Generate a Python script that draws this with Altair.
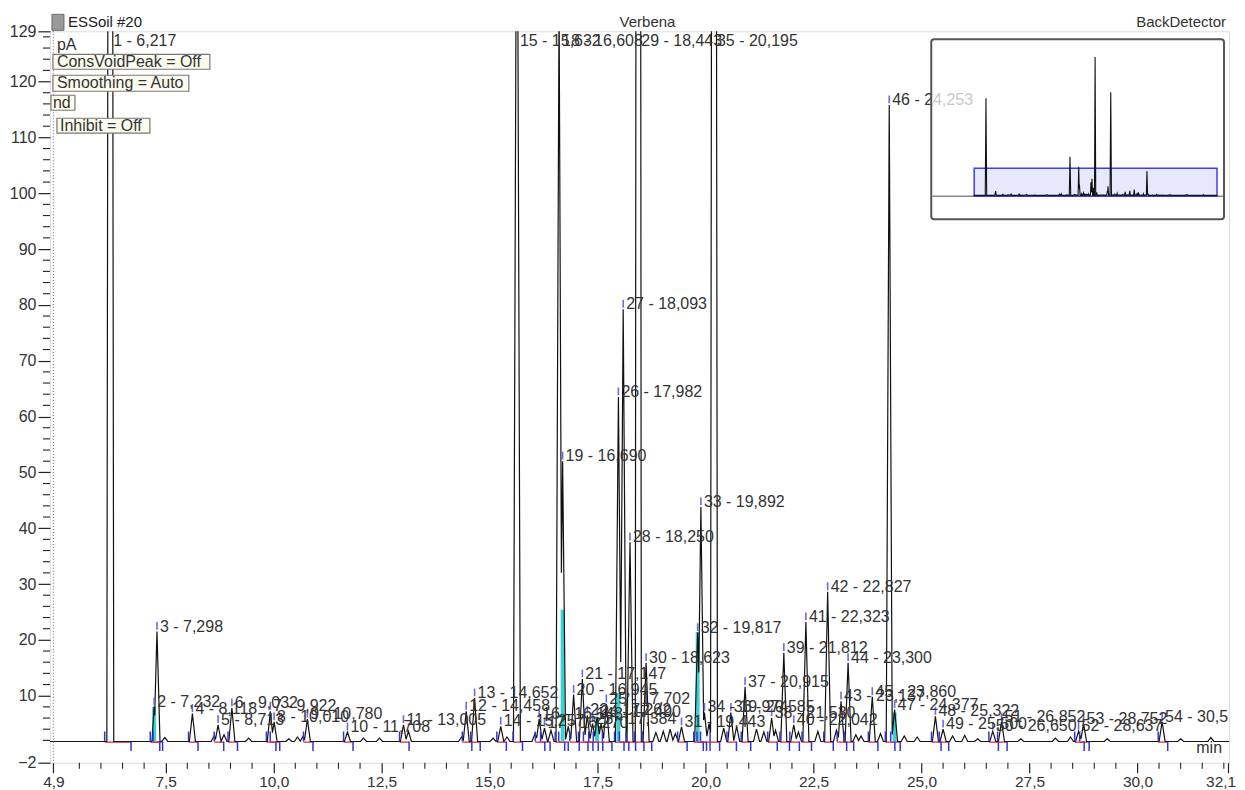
import altair as alt
import numpy as np
import pandas as pd

# ---------------- values ----------------
peak_id = list(range(1, 55))
peak_rt = [6.217, 7.232, 7.298, 8.118, 8.713, 9.032, 9.922, 10.010, 10.780, 11.708,
           13.005, 14.458, 14.652, 15.257, 15.632, 16.148, 16.270, 16.608, 16.690, 16.945,
           17.147, 17.262, 17.384, 17.490, 17.702, 17.982, 18.093, 18.250, 18.443, 18.623,
           19.443, 19.817, 19.892, 19.974, 20.195, 20.585, 20.915, 21.530, 21.812, 22.042,
           22.323, 22.827, 23.137, 23.300, 23.860, 24.253, 24.377, 25.322, 25.500, 26.650,
           26.852, 28.637, 28.752, 30.571]
peak_h = [456, 8.0, 21.5, 6.8, 4.8, 7.8, 7.2, 5.3, 5.8, 3.5,
          4.8, 7.2, 9.6, 4.5, 182, 5.8, 4.2, 135, 52, 10.2,
          13.0, 6.5, 5.0, 6.2, 8.5, 63.5, 79.2, 37.5, 650, 15.9,
          4.4, 21.3, 43.8, 7.0, 485, 7.0, 11.6, 6.0, 17.7, 4.8,
          23.2, 28.6, 9.0, 15.9, 9.8, 115.8, 7.5, 6.3, 4.0, 3.6,
          5.3, 3.6, 5.0, 5.3]
wide_peaks = {1: 0.08, 2: 0.05, 15: 0.08, 35: 0.08}

minor_rt = [7.48, 8.62, 8.85, 9.42, 10.35, 10.55, 10.68, 12.08, 12.45, 13.12,
            14.35, 15.08, 15.40, 16.05, 16.42, 16.82, 17.58, 18.85, 19.02, 19.18,
            19.30, 20.08, 20.42, 20.72, 21.18, 21.35, 21.62, 22.15, 22.60, 23.03,
            23.48, 23.60, 24.05, 24.60, 24.90, 25.72, 26.00, 26.30, 27.30, 28.10,
            28.45, 29.30, 31.00, 31.70]
minor_h = [2.5, 2.8, 3.0, 2.4, 2.3, 2.6, 2.7, 2.4, 2.4, 3.6,
           2.6, 2.4, 2.6, 3.2, 3.8, 4.5, 5.0, 3.4, 3.6, 4.0,
           3.2, 5.0, 4.2, 4.5, 4.0, 3.5, 3.8, 3.5, 3.6, 3.8,
           3.0, 2.8, 3.2, 2.8, 2.6, 2.8, 2.9, 2.3, 2.3, 2.4,
           2.6, 2.3, 2.3, 2.5]

cyan_peak = [2, 19, 24, 26, 32, 47]
cyan_top = [8.0, 25.4, 6.2, 10.5, 21.4, 7.0]

baseline = 1.8
x_ticks = [4.9, 7.5, 10.0, 12.5, 15.0, 17.5, 20.0, 22.5, 25.0, 27.5, 30.0, 32.1]
y_ticks = [-2, 10, 20, 30, 40, 50, 60, 70, 80, 90, 100, 110, 120, 129]
x_minor = [v / 2 for v in range(11, 65) if (v / 2) not in x_ticks]
y_minor = [v for v in range(0, 129, 2) if v % 10 != 0]

X_DOMAIN = [4.82, 32.12]
Y_DOMAIN = [-2, 129]
W, H = 1180, 732
FONT = "Liberation Sans"

# ---------------- trace construction from the peak table ----------------
tri = []
for i, r, h in zip(peak_id, peak_rt, peak_h):
    tri.append((r, h, wide_peaks.get(i, 0.07)))
for r, h in zip(minor_rt, minor_h):
    tri.append((r, h, 0.07))

keys = set(X_DOMAIN)
for r, h, w in tri:
    keys |= {r - w, r, r + w}
for a in tri:
    for b in tri:
        if a[0] < b[0] and a[0] + a[2] > b[0] - b[2]:
            Ha, Hb = a[1] - baseline, b[1] - baseline
            t = (Ha - Hb + Ha * a[0] / a[2] + Hb * b[0] / b[2]) / (Ha / a[2] + Hb / b[2])
            if max(a[0], b[0] - b[2]) <= t <= min(a[0] + a[2], b[0]):
                keys.add(t)


def env(t):
    vals = [baseline] + [baseline + (h - baseline) * (1 - abs(t - r) / w)
                         for r, h, w in tri if abs(t - r) < w]
    return max(vals)


ts = sorted(k for k in keys if X_DOMAIN[0] <= k <= X_DOMAIN[1])
trace = pd.DataFrame({"t": ts, "v": [env(t) for t in ts]})

peaks = pd.DataFrame({"id": peak_id, "rt": peak_rt, "h": peak_h})
peaks["s"] = peaks["rt"] - np.where(peaks["id"] == 1, 0.13, 0.09)
peaks["e"] = peaks["rt"] + np.where(peaks["id"] == 1, 0.48, 0.13)
peaks["b"] = baseline
peaks["b_red"] = baseline - 0.12
peaks["b_up"] = baseline + 1.8
peaks["b_dn"] = baseline - 1.7
peaks["ylab"] = peaks["h"].clip(upper=126.3)
peaks["label"] = [f"{i} - {r:.3f}".replace(".", ",") for i, r in zip(peak_id, peak_rt)]
apex = peaks[peaks["h"] < 126].copy()
apex["a0"] = apex["h"] + 0.3
apex["a1"] = apex["h"] + 1.7

cyan = pd.DataFrame({"id": cyan_peak, "top": cyan_top})
cyan = cyan.merge(peaks[["id", "rt"]], on="id")
cyan["x0"] = cyan["rt"] - 0.045
cyan["x1"] = cyan["rt"] + 0.045
cyan["y0"] = baseline

# ---------------- inset overview (pixel layout -> data coords) ----------------
def px2t(px):  # absolute page pixel -> time
    return X_DOMAIN[0] + (px - 50) / W * (X_DOMAIN[1] - X_DOMAIN[0])


def py2v(py):  # absolute page pixel -> value
    return Y_DOMAIN[1] - (py - 31) / H * (Y_DOMAIN[1] - Y_DOMAIN[0])


inset_box = pd.DataFrame({"x0": [px2t(932)], "x1": [px2t(1225)], "y0": [py2v(39)], "y1": [py2v(219)]})
inset_sel = pd.DataFrame({"x0": [px2t(975)], "x1": [px2t(1218)], "y0": [py2v(168)], "y1": [py2v(196)]})
inset_axis = pd.DataFrame({"x0": [px2t(933)], "x1": [px2t(1224)], "y": [py2v(196)]})
mini = pd.DataFrame({
    "t": [px2t(975 + (t - 4.9) / 27.2 * 243) for t in trace["t"]],
    "v": [py2v(196 - (v + 2) / 131 * 28) for v in trace["v"]],
})

# ---------------- encodings ----------------
xs = alt.Scale(domain=X_DOMAIN, nice=False, zero=False)
ys = alt.Scale(domain=Y_DOMAIN, nice=False, zero=False)
last_x = x_ticks[-1]
xaxis = alt.Axis(values=x_ticks,
                 labelExpr=f"datum.value > {last_x - 0.05} ? '' : replace(format(datum.value, '.1f'), '.', ',')",
                 tickSize=10, tickWidth=1.2, tickColor="#222", labelPadding=2, labelFontSize=15.5,
                 labelFont=FONT, labelColor="#333", grid=False, domain=False, title=None,
                 labelOverlap=False, labelFlush=False, labelBound=False)
yaxis = alt.Axis(values=y_ticks, format=".0f", tickSize=12, tickWidth=1.2, tickColor="#222",
                 labelPadding=2, labelFontSize=16, labelFont=FONT, labelColor="#333", grid=False,
                 domain=False, title=None, labelOverlap=False, labelFlush=False, labelBound=False)


def X(f):
    return alt.X(f"{f}:Q", scale=xs, axis=xaxis)


def Y(f):
    return alt.Y(f"{f}:Q", scale=ys, axis=yaxis)


one = pd.DataFrame({"a": [0]})


def ptext(s, x, y, **kw):
    return alt.Chart(one).mark_text(font=FONT, **kw).encode(
        x=alt.value(x), y=alt.value(y), text=alt.value(s))


def pbox(x0, x1, y0, y1, **kw):
    return alt.Chart(one).mark_rect(**kw).encode(
        x=alt.value(x0), x2=alt.value(x1), y=alt.value(y0), y2=alt.value(y1))


base_chart = alt.Chart(peaks)

red = base_chart.mark_rule(color="#e02828", strokeWidth=1.4, clip=True).encode(
    x=X("s"), x2="e", y=Y("b_red"))
cyanl = alt.Chart(cyan).mark_rect(color="#35d3d8", clip=True).encode(
    x=X("x0"), x2="x1", y=Y("y0"), y2="top")
line = alt.Chart(trace).mark_line(color="#111", strokeWidth=1.2, clip=True).encode(
    x=X("t"), y=Y("v"))
start_t = base_chart.mark_rule(color="#3434d4", strokeWidth=1.5, clip=True).encode(
    x=X("s"), y=Y("b"), y2="b_up")
end_t = base_chart.mark_rule(color="#3434d4", strokeWidth=1.5, clip=True).encode(
    x=X("e"), y=Y("b"), y2="b_dn")
apex_t = alt.Chart(apex).mark_rule(color="#6a6ae6", strokeWidth=1.6, clip=True).encode(
    x=X("rt"), y=Y("a0"), y2="a1")
labels = base_chart.mark_text(align="left", baseline="middle", dx=3, dy=-5, fontSize=16,
                              font=FONT, color="#333", clip=True).encode(
    x=X("rt"), y=Y("ylab"), text="label:N")

dotted = alt.Chart(pd.DataFrame({"t": [x_ticks[0]]})).mark_rule(
    color="#7d7db0", strokeDash=[1, 2], strokeWidth=1.2).encode(x=X("t"))

# minor ticks outside the frame
xminor = alt.Chart(pd.DataFrame({"t": x_minor})).mark_rule(color="#222", strokeWidth=1.1).encode(
    x=X("t"), y=alt.value(H), y2=alt.value(H + 6))
yminor = alt.Chart(pd.DataFrame({"v": y_minor})).mark_rule(color="#222", strokeWidth=1.1).encode(
    y=Y("v"), x=alt.value(0), x2=alt.value(-7))

# last x tick label, kept inside the page edge
last_lab = alt.Chart(pd.DataFrame({"t": [last_x], "lab": [f"{last_x:.1f}".replace(".", ",")]})).mark_text(
    font=FONT, fontSize=15.5, color="#333", align="right", baseline="top", dx=8).encode(
    x=X("t"), y=alt.value(H + 12), text="lab:N")

# inset
inset_bg = alt.Chart(inset_box).mark_rect(fill="white", fillOpacity=0.72, stroke="#555",
                                          strokeWidth=2, cornerRadius=3).encode(
    x=X("x0"), x2="x1", y=Y("y0"), y2="y1")
inset_ax = alt.Chart(inset_axis).mark_rule(color="#888", strokeWidth=1.5).encode(
    x=X("x0"), x2="x1", y=Y("y"))
inset_rect = alt.Chart(inset_sel).mark_rect(fill="#e4e4fb", fillOpacity=0.85, stroke="#3c3cf0",
                                            strokeWidth=1.5).encode(
    x=X("x0"), x2="x1", y=Y("y0"), y2="y1")
inset_line = alt.Chart(mini).mark_line(color="#111", strokeWidth=1.1).encode(
    x=X("t"), y=Y("v"))

# annotation boxes (top left)
ann = [
    ptext("pA", 7, 14, fontSize=16, align="left", baseline="middle", color="#333"),
    pbox(3, 160, 23, 38, fill="#fbfbee", stroke="#777", strokeWidth=1.2),
    ptext("ConsVoidPeak = Off", 7, 31, fontSize=16, align="left", baseline="middle", color="#333"),
    pbox(3, 139, 44, 60, fill="#fbfbee", stroke="#777", strokeWidth=1.2),
    ptext("Smoothing = Auto", 7, 52, fontSize=16, align="left", baseline="middle", color="#333"),
    pbox(1, 25, 64, 79, fill="#fbfbee", stroke="#777", strokeWidth=1.2),
    ptext("nd", 3, 72, fontSize=16, align="left", baseline="middle", color="#333"),
    pbox(7, 100, 87, 102, fill="#fbfbee", stroke="#777", strokeWidth=1.2),
    ptext("Inhibit = Off", 10, 95, fontSize=16, align="left", baseline="middle", color="#333"),
]

titles = [
    pbox(2, 14, -17, -1, fill="#9a9a9a", stroke="#6a6a6a", strokeWidth=1),
    ptext("ESSoil #20", 18, -9, fontSize=15, align="left", baseline="middle", color="#222"),
    ptext("Verbena", 598, -9, fontSize=15, align="center", baseline="middle", color="#333"),
    ptext("BackDetector", 1177, -9, fontSize=15, align="right", baseline="middle", color="#333"),
    ptext("min", 1173, 717, fontSize=16, align="right", baseline="middle", color="#333"),
]

chart = alt.layer(
    red, cyanl, line, start_t, end_t, apex_t, labels, dotted, xminor, yminor, last_lab,
    *ann, inset_bg, inset_ax, inset_rect, inset_line, *titles
).properties(
    width=W, height=H,
    autosize=alt.AutoSizeParams(type="none"),
    padding={"left": 42, "top": 23, "right": 8, "bottom": 33},
).configure_view(stroke="#111", strokeWidth=1.6).configure(background="white")

chart.save("out.html", embed_options={"renderer": "svg", "actions": False})
